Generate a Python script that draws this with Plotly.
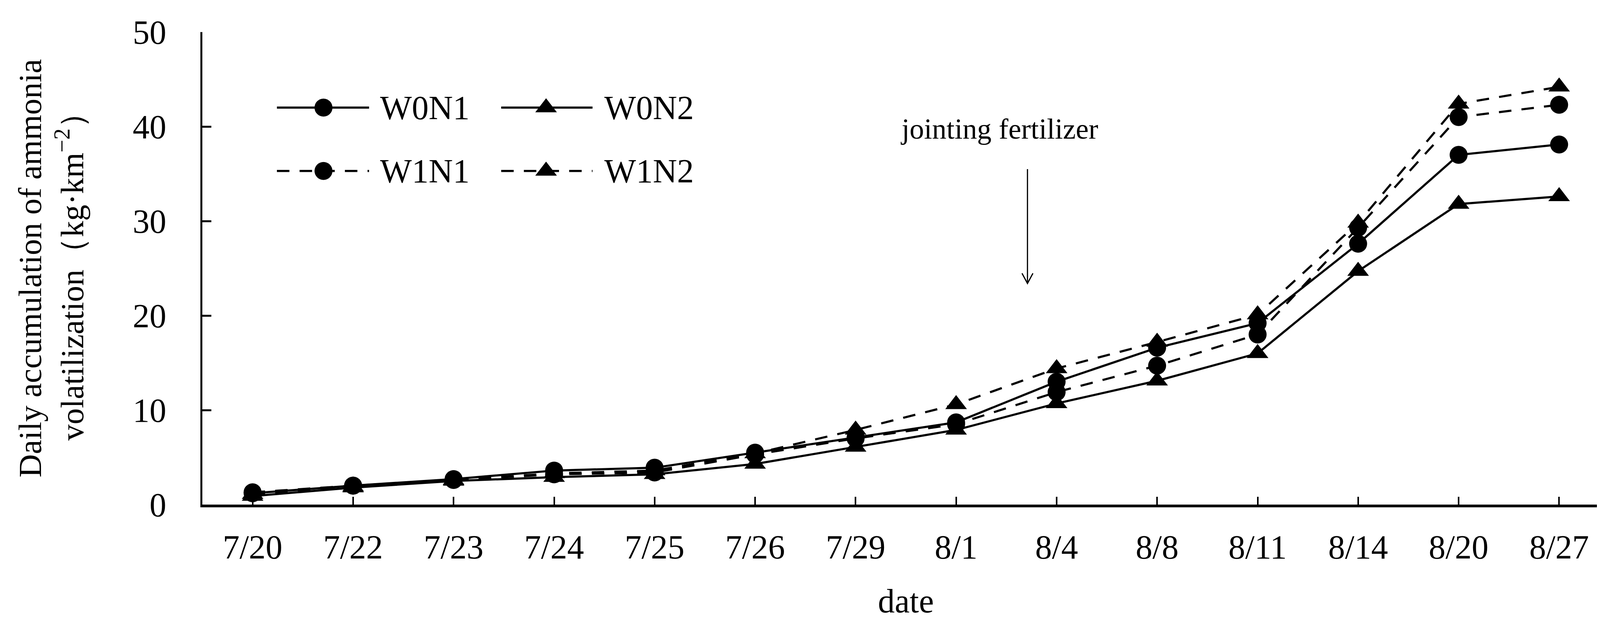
import plotly.graph_objects as go

# Data
dates = ["7/20", "7/22", "7/23", "7/24", "7/25", "7/26", "7/29",
         "8/1", "8/4", "8/8", "8/11", "8/14", "8/20", "8/27"]
w0n1 = [1.2, 2.0, 2.7, 3.6, 3.9, 5.5, 7.1, 8.7, 13.0, 16.6, 19.2, 27.6, 37.0, 38.1]
w0n2 = [0.9, 1.8, 2.5, 2.9, 3.2, 4.3, 6.1, 7.9, 10.7, 13.1, 16.0, 24.7, 31.8, 32.6]
w1n1 = [1.3, 2.0, 2.6, 3.2, 3.4, 5.3, 7.0, 8.5, 11.9, 14.7, 18.0, 29.3, 41.0, 42.3]
w1n2 = [1.1, 1.9, 2.6, 3.3, 3.6, 5.4, 7.9, 10.6, 14.4, 17.2, 20.1, 29.8, 42.4, 44.2]
y_ticks = [0, 10, 20, 30, 40, 50]

FONT = "Liberation Serif, Times New Roman, serif"
DASH = "32px,26px"

x = list(range(len(dates)))

series = [
    ("W0N1", w0n1, "solid", "circle"),
    ("W0N2", w0n2, "solid", "triangle-up"),
    ("W1N1", w1n1, DASH, "circle"),
    ("W1N2", w1n2, DASH, "triangle-up"),
]

fig = go.Figure()
for name, vals, dash, sym in series:
    fig.add_trace(go.Scatter(
        x=x, y=vals, name=name, mode="lines+markers",
        line=dict(color="black", width=5.5, dash=dash),
        marker=dict(symbol=sym, size=46 if sym == "circle" else 48, color="black"),
        showlegend=False,
    ))

# hand-drawn legend (two rows, two columns) to match the long sample lines
legend_pos = {
    "W0N1": (0.0530, 0.1185, 0.0861, 0.1258, 0.840),
    "W0N2": (0.2124, 0.2773, 0.2443, 0.2851, 0.840),
    "W1N1": (0.0530, 0.1185, 0.0861, 0.1258, 0.706),
    "W1N2": (0.2124, 0.2773, 0.2443, 0.2851, 0.706),
}
shapes = []
annotations = []
for name, vals, dash, sym in series:
    x0, x1, xm, xt, yy = legend_pos[name]
    shapes.append(dict(type="line", xref="paper", yref="paper", x0=x0, x1=x1, y0=yy, y1=yy,
                       line=dict(color="black", width=5.5, dash=dash)))
    if sym == "circle":
        shapes.append(dict(type="circle", xref="paper", yref="paper",
                           xsizemode="pixel", ysizemode="pixel", xanchor=xm, yanchor=yy,
                           x0=-23, x1=23, y0=-23, y1=23,
                           fillcolor="black", line=dict(width=0)))
    else:
        shapes.append(dict(type="path", xref="paper", yref="paper",
                           xsizemode="pixel", ysizemode="pixel", xanchor=xm, yanchor=yy,
                           path="M-27.7,-12 L27.7,-12 L0,24 Z",
                           fillcolor="black", line=dict(width=0)))
    annotations.append(dict(text=name, xref="paper", yref="paper", x=xt, y=yy,
                            xanchor="left", yanchor="middle", showarrow=False,
                            font=dict(family=FONT, size=86, color="black")))

# "jointing fertilizer" note and its arrow
annotations.append(dict(text="jointing fertilizer", x=7.43, y=39.75, xref="x", yref="y",
                        showarrow=False, font=dict(family=FONT, size=74, color="black")))
arrow_x, arrow_top, arrow_tip = 7.71, 35.5, 23.4
shapes.append(dict(type="line", xref="x", yref="y", x0=arrow_x, x1=arrow_x,
                   y0=arrow_top, y1=arrow_tip, line=dict(color="black", width=3)))
shapes.append(dict(type="path", xref="x", yref="y", xsizemode="pixel", ysizemode="pixel",
                   xanchor=arrow_x, yanchor=arrow_tip, path="M-14,26 L0,0 L14,26",
                   line=dict(color="black", width=3)))

fig.update_layout(
    width=4161, height=1608,
    margin=dict(l=510, r=49, t=74, b=324),
    paper_bgcolor="white", plot_bgcolor="white",
    font=dict(family=FONT, color="black", size=86),
    shapes=shapes, annotations=annotations,
    xaxis=dict(
        range=[-0.5, 13.5],
        tickvals=x, ticktext=dates,
        ticks="inside", ticklen=20, tickwidth=4, tickcolor="black",
        minor=dict(tickvals=[13.5], ticks="inside", ticklen=20, tickwidth=4,
                   tickcolor="black", showgrid=False),
        showline=True, linewidth=7, linecolor="black",
        showgrid=False, zeroline=False,
        tickfont=dict(family=FONT, size=86), ticklabelstandoff=28,
        title=dict(text="date", font=dict(family=FONT, size=86), standoff=62),
    ),
    yaxis=dict(
        range=[0, 50], tickvals=y_ticks,
        ticks="inside", ticklen=23, tickwidth=5, tickcolor="black",
        showline=True, linewidth=5, linecolor="black",
        showgrid=False, zeroline=False,
        tickfont=dict(family=FONT, size=86), ticklabelstandoff=70,
        title=dict(text="Daily accumulation of ammonia<br>volatilization（kg·km<sup>−2</sup>）",
                   font=dict(family=FONT, size=83), standoff=100),
    ),
)

fig.write_html("out.html")
